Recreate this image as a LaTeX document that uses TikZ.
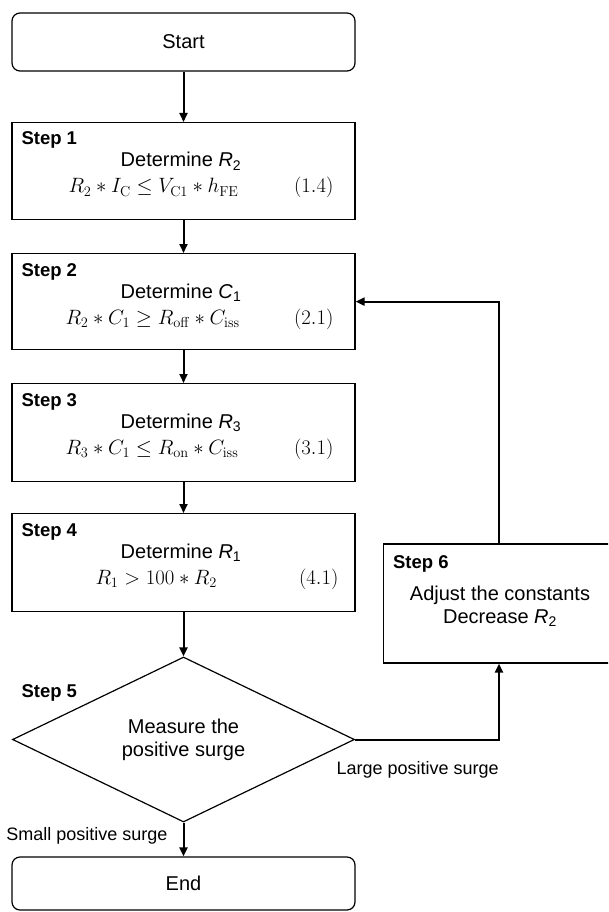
\documentclass[tikz,border=0pt]{standalone}
\usepackage[no-math]{fontspec}
\setmainfont{Liberation Sans}
\usetikzlibrary{arrows.meta, shapes.geometric}
\tikzset{
  stepbox/.style={draw, line width=1.2pt, minimum width=343pt, inner sep=0pt},
  termbox/.style={stepbox, rounded corners=8pt, minimum height=58pt, font=\fontsize{20}{24}\selectfont},
  arr/.style={line width=2pt, -{Triangle[length=9pt, width=8pt]}},
  steplbl/.style={anchor=base west, font=\fontsize{18.5}{22}\selectfont\bfseries},
  txt/.style={anchor=base, font=\fontsize{20}{24}\selectfont},
  edgelbl/.style={font=\fontsize{18}{22}\selectfont},
}

\begin{document}
\begin{tikzpicture}[x=1pt, y=-1pt]
    \clip (0,0) rectangle (608,912);
    % start
    \node[termbox] (start) at (183.5,42) {Start};
    % steps 1-4
    \foreach \n/\y/\h/\what/\eqx/\eq/\nox in {
      1/122/97pt/{\textit{R}\textsubscript{2}}/65/{R_2 \ast I_\mathrm{C} \leq V_{\mathrm{C}1} \ast h_\mathrm{FE}}/337,
      2/253/96pt/{\textit{C}\textsubscript{1}}/62/{R_2 \ast C_1 \geq R_\mathrm{off} \ast C_\mathrm{iss}}/337,
      3/383/98pt/{\textit{R}\textsubscript{3}}/62/{R_3 \ast C_1 \leq R_\mathrm{on} \ast C_\mathrm{iss}}/337,
      4/513/98pt/{\textit{R}\textsubscript{1}}/92/{R_1 > 100 \ast R_2}/342} {
      \node[stepbox, minimum height=\h, anchor=north] (s\n) at (183.5,\y) {};
      \node[steplbl] (s\n-lbl) at (18,\y+23) {Step \n};
      \node[txt] (s\n-txt) at (181,\y+45) {Determine \what};
      \node[txt, anchor=base west] (s\n-eq) at (\eqx,\y+71) {$\eq$};
      \node[txt, anchor=base east] (s\n-no) at (\nox,\y+71) {$(\n.\ifnum\n=1 4\else 1\fi)$};
    }
    % step 5
    \node[draw, diamond, line width=1.2pt, minimum width=342pt, minimum height=143pt, inner sep=0pt,
      align=center, font=\fontsize{20}{23}\selectfont] (s5) at (183.5,739.5) {Measure the\\positive surge};
    \node[steplbl] (s5-lbl) at (18,697) {Step 5};
    % step 6
    \node[stepbox, minimum width=231pt, minimum height=119pt] (s6) at (499,603.5) {};
    \node[steplbl] (s6-lbl) at (389.5,568) {Step 6};
    \node[txt] (s6-txt) at (500,600) {Adjust the constants};
    \node[txt] (s6-txt2) at (500,623) {Decrease \textit{R}\textsubscript{2}};
    % end
    \node[termbox, minimum height=53pt] (end) at (183.5,883.5) {End};
    % arrows
    \draw[arr] (start) -- (s1);
    \foreach \a/\b in {1/2,2/3,3/4,4/5} \draw[arr] (s\a) -- (s\b);
    \draw[arr] (s5) -- (end);
    \draw[arr] (s5.east) -| (s6.south);
    \draw[arr] (s6.north) |- (s2.east);
    \node[edgelbl, anchor=base west] (lbl-large) at (333,774) {Large positive surge};
    \node[edgelbl, anchor=base east] (lbl-small) at (171,840) {Small positive surge};
  \end{tikzpicture}
\end{document}
